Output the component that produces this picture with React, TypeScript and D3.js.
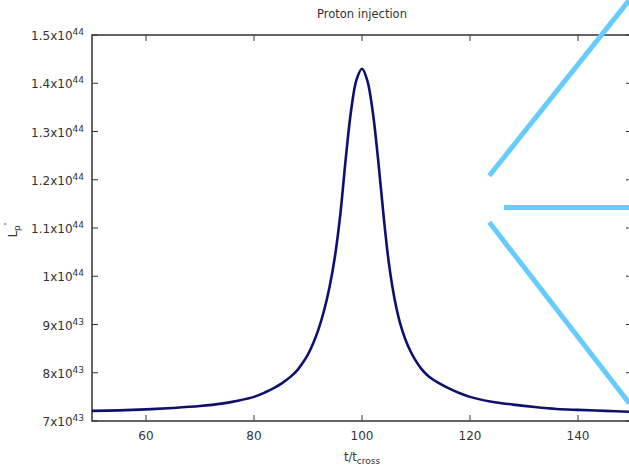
import React from "react";
import * as d3 from "d3";

// Time in units of t_cross
const tValues = [
  50, 55, 60, 65, 70, 74, 77, 80, 82, 84, 85, 86, 87, 88, 89, 90, 91, 92, 93, 94, 95,
  96, 97, 98, 99, 100, 101, 102, 103, 104, 105, 106, 107, 108, 109, 110, 111, 112, 113,
  114, 116, 118, 120, 124, 128, 132, 136, 140, 145, 150,
];
// L_p' in units of 1e43
const lValues = [
  7.21, 7.22, 7.24, 7.27, 7.31, 7.36, 7.42, 7.5, 7.59, 7.7, 7.77, 7.85, 7.94, 8.05, 8.2,
  8.38, 8.62, 8.92, 9.3, 9.78, 10.42, 11.3, 12.45, 13.45, 14.08, 14.3, 14.05, 13.4, 12.4,
  11.25, 10.25, 9.55, 9.05, 8.7, 8.44, 8.24, 8.08, 7.96, 7.87, 7.8, 7.68, 7.58, 7.5, 7.4,
  7.34, 7.29, 7.25, 7.23, 7.21, 7.19,
];

const xTicks = [60, 80, 100, 120, 140];
const yTicks = [7e43, 8e43, 9e43, 1e44, 1.1e44, 1.2e44, 1.3e44, 1.4e44, 1.5e44];
const yTickMantissa = ["7", "8", "9", "1", "1.1", "1.2", "1.3", "1.4", "1.5"];
const yTickExponent = ["43", "43", "43", "44", "44", "44", "44", "44", "44"];

// Decorative light-blue overlay strokes, in data coordinates [t, L]
const overlaySegments: [number, number, number, number][] = [
  [123.57, 1.2084e44, 149.5, 1.5725e44],
  [126.3, 1.1427e44, 150, 1.1427e44],
  [123.57, 1.1118e44, 149.5, 0.7367e44],
];

const W = 629;
const H = 467;
const textColor = "#333";
const font = "DejaVu Sans, sans-serif";

export default function App() {
  const x = d3.scaleLinear().domain([50, 150]).range([92, 632]);
  const y = d3.scaleLinear().domain([7e43, 1.5e44]).range([421, 35]);
  const data = tValues.map((t, i) => [t, lValues[i] * 1e43] as [number, number]);
  const line = d3
    .line<[number, number]>()
    .x((d) => x(d[0]))
    .y((d) => y(d[1]))
    .curve(d3.curveCatmullRom.alpha(0.5));

  const [x0, x1] = x.range();
  const [yb, yt] = y.range();
  const tick = 6;

  return (
    <div style={{ position: "fixed", left: 0, top: 0 }}>
      <svg width={W} height={H} style={{ display: "block", background: "#fff" }} fontFamily={font}>
        <rect width={W} height={H} fill="#fff" />
        {/* ticks */}
        {xTicks.map((t) => (
          <g key={"x" + t}>
            <line x1={x(t)} x2={x(t)} y1={yb} y2={yb - tick} stroke={textColor} strokeWidth={1} />
            <line x1={x(t)} x2={x(t)} y1={yt} y2={yt + tick} stroke={textColor} strokeWidth={1} />
            <text x={x(t)} y={yb + 19} fontSize={12} fill={textColor} textAnchor="middle">
              {t}
            </text>
          </g>
        ))}
        {yTicks.map((v, i) => (
          <g key={"y" + i}>
            <line x1={x0} x2={x0 + tick} y1={y(v)} y2={y(v)} stroke={textColor} strokeWidth={1} />
            <line x1={x1} x2={x1 - tick} y1={y(v)} y2={y(v)} stroke={textColor} strokeWidth={1} />
            <text x={84} y={y(v) + 5} fontSize={12} fill={textColor} textAnchor="end">
              {yTickMantissa[i]}x10
              <tspan fontSize={9} dy={-5}>
                {yTickExponent[i]}
              </tspan>
            </text>
          </g>
        ))}
        {/* frame */}
        <rect
          x={x0}
          y={yt}
          width={x1 - x0}
          height={yb - yt}
          fill="none"
          stroke={textColor}
          strokeWidth={1.5}
        />
        {/* curve */}
        <path d={line(data) || ""} fill="none" stroke="#0f0f6e" strokeWidth={2.6} />
        {/* overlay */}
        {overlaySegments.map((s, i) => (
          <line
            key={"o" + i}
            x1={x(s[0])}
            y1={y(s[1])}
            x2={x(s[2])}
            y2={y(s[3])}
            stroke="#66ccff"
            strokeWidth={5}
          />
        ))}
        {/* title */}
        <text x={x(100)} y={18} fontSize={11.5} fill={textColor} textAnchor="middle">
          Proton injection
        </text>
        {/* x label */}
        <text x={x(100)} y={461} fontSize={11.5} fill={textColor} textAnchor="middle">
          t/t
          <tspan fontSize={9} dy={3}>
            cross
          </tspan>
        </text>
        {/* y label */}
        <text
          transform={`translate(17, ${y(1.1e44) + 2}) rotate(-90)`}
          fontSize={11.5}
          fill={textColor}
          textAnchor="middle"
        >
          L
          <tspan fontSize={9} dy={3}>
            p
          </tspan>
          <tspan fontSize={9} dy={-9}>
            '
          </tspan>
        </text>
      </svg>
    </div>
  );
}
